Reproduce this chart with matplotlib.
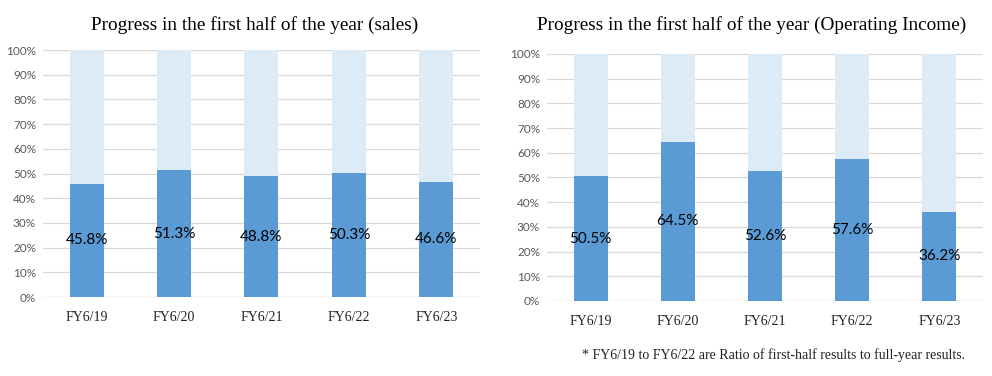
import matplotlib
matplotlib.use("Agg")
import matplotlib.pyplot as plt
import numpy as np

# data
years = ["FY6/19", "FY6/20", "FY6/21", "FY6/22", "FY6/23"]
sales_first_half = [45.8, 51.3, 48.8, 50.3, 46.6]
income_first_half = [50.5, 64.5, 52.6, 57.6, 36.2]
yticks = [0, 10, 20, 30, 40, 50, 60, 70, 80, 90, 100]

colors = {
    "first": "#5B9BD5",
    "rest": "#DDEBF7",
    "grid": "#D9D9D9",
    "tick": "#595959",
}
serif = "Liberation Serif"
label_font = "Lato"


def draw_panel(ax, values):
    x = np.arange(len(years))
    vals = np.array(values)
    ax.bar(x, vals, width=0.39, color=colors["first"], zorder=3)
    ax.bar(x, 100 - vals, bottom=vals, width=0.39, color=colors["rest"], zorder=3)
    for xi, v in zip(x, vals):
        ax.text(xi, v / 2, f"{v:.1f}%", ha="center", va="center",
                fontsize=11, family=label_font, color="black", zorder=4)
    ax.set_xlim(-0.5, len(years) - 0.5)
    ax.set_ylim(0, 100)
    ax.set_yticks(yticks)
    ax.set_yticklabels([f"{t}%" for t in yticks], family=label_font,
                       fontsize=8.5, color=colors["tick"])
    ax.set_xticks(x)
    ax.set_xticklabels(years, family=serif, fontsize=10, color="#222222")
    ax.tick_params(axis="both", length=0)
    ax.tick_params(axis="x", pad=10)
    ax.tick_params(axis="y", pad=5)
    ax.grid(axis="y", color=colors["grid"], lw=0.9, zorder=0)
    for s in ax.spines.values():
        s.set_visible(False)
    ax.axhline(0, color=colors["grid"], lw=0.9, zorder=2)


fig = plt.figure(figsize=(9.92, 3.76), dpi=100)
ax1 = fig.add_axes([0.0433, 0.210, 0.4405, 0.657])
ax2 = fig.add_axes([0.5514, 0.1995, 0.4395, 0.657])

draw_panel(ax1, sales_first_half)
draw_panel(ax2, income_first_half)

fig.text(0.257, 0.933, "Progress in the first half of the year (sales)",
         ha="center", va="center", family=serif, fontsize=13.9, color="black")
fig.text(0.7576, 0.933, "Progress in the first half of the year (Operating Income)",
         ha="center", va="center", family=serif, fontsize=13.9, color="black")

fig.text(0.973, 0.055, "* FY6/19 to FY6/22 are Ratio of first-half results to full-year results.",
         ha="right", va="center", family=serif, fontsize=10, color="#222222")

fig.savefig("out.png", dpi=100)
